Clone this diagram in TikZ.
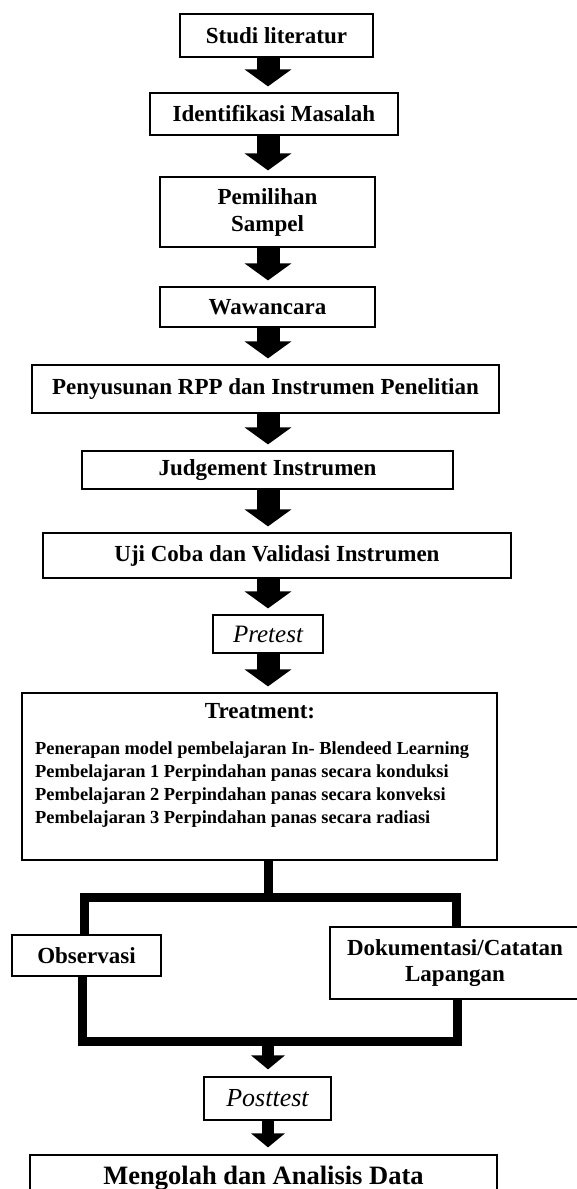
\documentclass[tikz,border=0pt]{standalone}
\usepackage{fontspec}
\setmainfont{Liberation Serif}
\usetikzlibrary{arrows.meta,calc}
\begin{document}
\begin{tikzpicture}[x=1pt,y=1pt,
  box/.style={draw=black, line width=1.2pt, inner sep=0pt, align=center,
    font=\bfseries\fontsize{23}{27}\selectfont},
  itbox/.style={draw=black, line width=1.2pt, inner sep=0pt, align=center,
    font=\itshape\fontsize{25}{29}\selectfont},
  bigarrow/.style={line width=23pt, -{Triangle[width=46pt,length=17pt]}, shorten >=6pt},
  smallarrow/.style={line width=12pt, -{Triangle[width=33pt,length=14pt]}, shorten >=7pt},
  fork/.style={line width=9pt, line join=miter}]
\useasboundingbox (0,0) rectangle (577,-1189);
\fill[white] (0,0) rectangle (577,-1189);
\clip (0,0) rectangle (577,-1189);
\coordinate (axis) at (268,0);

\node[box, minimum width=193, minimum height=43] (studi) at (276.5,-35.5) {Studi literatur};
\node[box, minimum width=248, minimum height=42] (ident) at (274,-114) {Identifikasi Masalah};
\node[box, minimum width=215, minimum height=70] (pemil) at (267.5,-212) {Pemilihan\\Sampel};
\node[box, minimum width=215, minimum height=40] (wawan) at (267.5,-307) {Wawancara};
\node[box, minimum width=467, minimum height=48] (penyu) at (265.5,-389) {Penyusunan RPP dan Instrumen Penelitian};
\node[box, minimum width=371, minimum height=38] (judge) at (267.5,-470) {Judgement Instrumen};
\node[box, minimum width=468, minimum height=45] (ujico) at (277,-555.5) {Uji Coba dan Validasi Instrumen};
\node[itbox, minimum width=110, minimum height=38] (pre) at (268,-634) {Pretest};
\node[draw=black, line width=1.2pt, minimum width=475, minimum height=167, inner sep=0pt] (treat) at (259.5,-776.5) {};
\node[font=\bfseries\fontsize{23}{27}\selectfont, inner sep=0pt] (treathead) at (260,-711) {Treatment:};
\node[font=\bfseries\fontsize{18.4}{22.7}\selectfont, inner sep=0pt, align=left, anchor=north west] (treatitems) at (35,-742)
  {Penerapan model pembelajaran In- Blendeed Learning\\
   Pembelajaran 1 Perpindahan panas secara konduksi\\
   Pembelajaran 2 Perpindahan panas secara konveksi\\
   Pembelajaran 3 Perpindahan panas secara radiasi};
\node[box, minimum width=149, minimum height=41] (obs) at (86.5,-955.5) {Observasi};
\node[box, minimum width=250, minimum height=72, font=\bfseries\fontsize{23}{26}\selectfont] (doc) at (455,-963) {Dokumentasi/Catatan\\Lapangan};
\node[itbox, minimum width=127, minimum height=43, font=\itshape\fontsize{26}{30}\selectfont] (post) at (267.5,-1098.5) {Posttest};
\node[box, minimum width=467, minimum height=46, font=\bfseries\fontsize{26.5}{30}\selectfont] (olah) at (263.5,-1178) {Mengolah dan Analisis Data};

\draw[bigarrow] (studi.south -| axis) -- (ident.north -| axis);
\draw[bigarrow] (ident.south -| axis) -- (pemil.north -| axis);
\draw[bigarrow] (pemil.south -| axis) -- (wawan.north -| axis);
\draw[bigarrow] (wawan.south -| axis) -- (penyu.north -| axis);
\draw[bigarrow] (penyu.south -| axis) -- (judge.north -| axis);
\draw[bigarrow] (judge.south -| axis) -- (ujico.north -| axis);
\draw[bigarrow] (ujico.south -| axis) -- (pre.north -| axis);
\draw[bigarrow] (pre.south -| axis) -- (treat.north -| axis);

\coordinate (topL) at (84.5,-897.5);
\coordinate (topR) at (456.5,-897.5);
\coordinate (botL) at (82,-1041.5);
\coordinate (botR) at (457,-1041.5);
\draw[fork] (treat.south -| axis) -- (topL -| axis);
\draw[fork] (obs.north -| topL) -- (topL) -- (topR) -- (doc.north -| topR);
\draw[fork] (obs.south -| botL) -- (botL) -- (botR) -- (doc.south -| botR);

\draw[smallarrow] (botL -| axis) -- (post.north -| axis);
\draw[smallarrow] (post.south -| axis) -- (olah.north -| axis);
\end{tikzpicture}
\end{document}
